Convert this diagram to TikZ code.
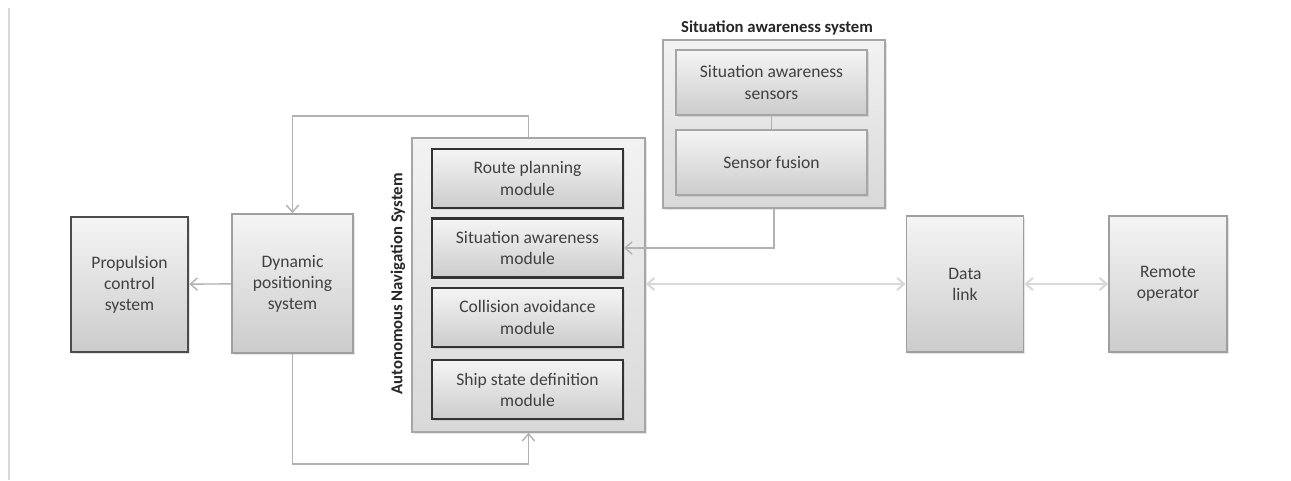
\documentclass[tikz,border=0pt]{standalone}
\usepackage{fontspec}
\setmainfont{Carlito}
\usetikzlibrary{arrows.meta,shadows}

\begin{document}
\begin{tikzpicture}[
        x=0.02cm, y=-0.02cm,
        every node/.style={font=\fontsize{10}{12}\selectfont, text=black!75, align=center},
        block/.style={rectangle, draw=gray!75, line width=1pt, top color=gray!8, bottom color=gray!40,
          drop shadow={shadow xshift=1pt, shadow yshift=-1pt, opacity=0.2}},
        module/.style={block, draw=black!80, line width=1.2pt, minimum width=3.82cm, minimum height=1.18cm},
        group/.style={rectangle, draw=gray!70, line width=1pt, top color=gray!10, bottom color=gray!30,
          drop shadow={shadow xshift=1pt, shadow yshift=-1pt, opacity=0.2}},
        title/.style={font=\fontsize{9.5}{11}\selectfont\bfseries, text=black!85},
        link/.style={draw=gray!60, line width=0.8pt, -{Straight Barb[length=4pt, width=7pt]}},
        duplex/.style={draw=gray!30, line width=1.2pt, {Straight Barb[length=4pt, width=7pt]}-{Straight Barb[length=4pt, width=7pt]}}
      ]
      \useasboundingbox (0,0) rectangle (1291,480);
      \fill[white] (0,0) rectangle (1291,480);
      \draw[gray!30, line width=1.5pt] (9,8) -- (9,480);

      % ship side
      \node[block, draw=black!70, line width=1.5pt, minimum width=2.34cm, minimum height=2.7cm]
        (prop) at (129.5,284.5) {Propulsion\\control\\system};
      \node[block, minimum width=2.42cm, minimum height=2.78cm]
        (dp) at (292.5,283.5) {Dynamic\\positioning\\system};

      % autonomous navigation system
      \node[group, minimum width=4.66cm, minimum height=5.88cm] (ans) at (528.5,285) {};
      \node[title, rotate=90] (anslabel) at (398,284) {Autonomous Navigation System};
      \node[module] (route) at (527.5,178.5) {Route planning\\module};
      \node[module] (sam) at (527.5,248) {Situation awareness\\module};
      \node[module] (coll) at (527.5,317.5) {Collision avoidance\\module};
      \node[module] (ship) at (527.5,389.5) {Ship state definition\\module};

      % situation awareness system
      \node[group, minimum width=4.44cm, minimum height=3.36cm] (sas) at (774,124) {};
      \node[title] (sastitle) at (777,28) {Situation awareness system};
      \node[module, draw=gray!70, minimum height=1.3cm] (sensors) at (771.5,82.5) {Situation awareness\\sensors};
      \node[module, draw=gray!70, minimum height=1.3cm] (fusion) at (771.5,162.5) {Sensor fusion};

      % shore side
      \node[block, minimum width=2.34cm, minimum height=2.72cm] (dl) at (965,284) {Data\\link};
      \node[block, minimum width=2.36cm, minimum height=2.72cm] (remote) at (1168,284) {Remote\\operator};

      % connectors
      \draw[link] (dp) -- (prop);
      \draw[link] (ans.north) -- ++(0,-21) -| (dp.north);
      \draw[link] (dp.south) -- ++(0,110) -| (ans.south);
      \draw[gray!60, line width=0.8pt] (sensors.south) -- (fusion.north);
      \draw[link] (sas.south) |- (sam.east);
      \draw[duplex] (dl.west -| ans.east) -- (dl.west);
      \draw[duplex] (dl) -- (remote);
    \end{tikzpicture}
\end{document}
